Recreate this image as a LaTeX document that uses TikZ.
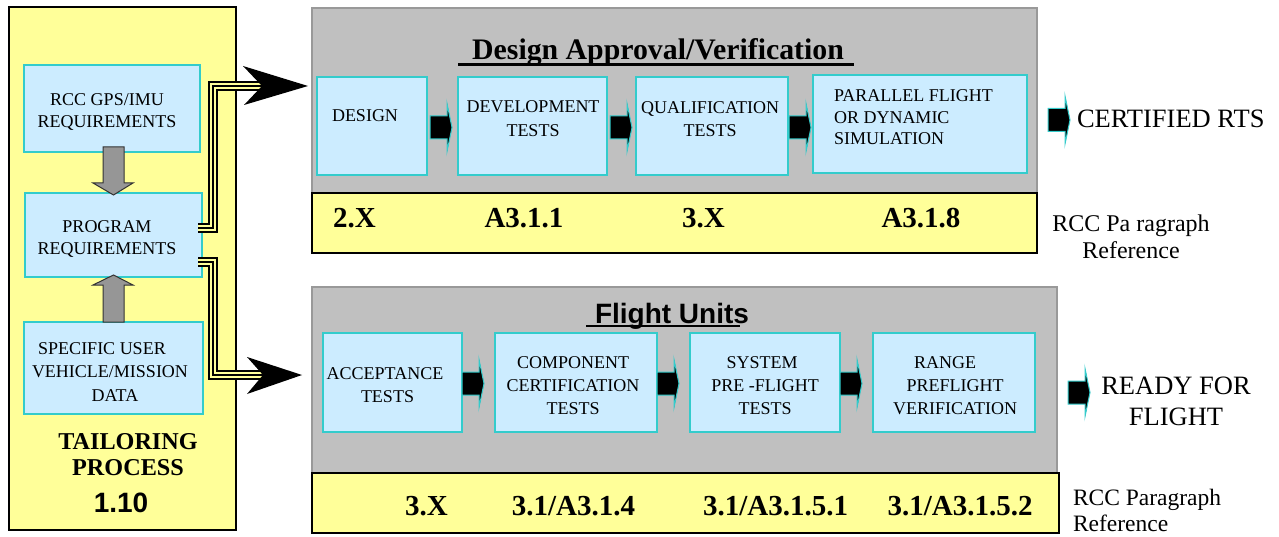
\documentclass[tikz,border=0pt]{standalone}
\usepackage{fontspec}
\setmainfont{Liberation Serif}
\newfontfamily\arialf{Liberation Sans}
\usetikzlibrary{calc}
\definecolor{yel}{HTML}{FFFF99}
\definecolor{lblue}{HTML}{CCECFF}
\definecolor{cyb}{HTML}{33CCCC}
\definecolor{pgray}{HTML}{C0C0C0}
\definecolor{pborder}{HTML}{999999}
\definecolor{agray}{HTML}{969696}
\tikzset{
  every node/.style={inner sep=0pt, outer sep=0pt},
  ybox/.style={draw=black, line width=1.5pt, fill=yel, anchor=north west, rectangle},
  bbox/.style={draw=cyb, line width=1.5pt, fill=lblue, anchor=north west, rectangle},
  gpanel/.style={draw=pborder, line width=2.5pt, fill=pgray, anchor=north west, rectangle},
  txt/.style={font=\fontsize{18}{#1}\selectfont, align=center},
  txt/.default=23.5,
  refno/.style={font=\fontsize{29}{34}\selectfont\bfseries, anchor=base},
  garrow/.style={fill=agray, draw=black!80, line width=1pt},
  blk/.style={fill=black, draw=cyb, line width=1pt},
  triple/.style={line width=10pt, draw=black,
    postaction={draw=yel, line width=6pt},
    postaction={draw=black, line width=2pt}},
  bighead/.style={fill=black}
}
\newcommand\blkarrow[1]{%
  \filldraw[blk] ($(#1)+(0,-11.5)$) -- ++(17,0) -- ++(0,-12.5) -- ++(5,24)
    -- ++(-5,24) -- ++(0,-12.5) -- ++(-17,0) -- cycle;}
\begin{document}
\begin{tikzpicture}[x=1pt,y=-1pt]
\useasboundingbox (0,0) rectangle (1279,537);

% ---------- left tailoring box ----------
\node[ybox, minimum width=227pt, minimum height=523pt] (tail) at (9,7) {};
\node[bbox, minimum width=176pt, minimum height=87pt] (gps) at (24,65) {};
\node[bbox, minimum width=177pt, minimum height=84pt] (prog) at (25,193) {};
\node[bbox, minimum width=179pt, minimum height=92pt] (spec) at (24,322) {};
\node[txt=22.5] (gpst) at (107,112) {RCC GPS/IMU\\REQUIREMENTS};
\node[txt=21.5] (progt) at (107,239) {PROGRAM\\REQUIREMENTS};
\node[txt=23.5] (spect) at (110,372) {\hspace*{-16pt}SPECIFIC USER\\VEHICLE/MISSION\\\hspace*{10pt}DATA};
\node[font=\bfseries\fontsize{24.2}{26}\selectfont, align=center] (tp) at (128,455) {TAILORING\\PROCESS};
\node[font=\arialf\bfseries\fontsize{28}{32}\selectfont, anchor=base] (num) at (121,512) {1.10};

\draw[garrow] ($(gps.south)+(-9,-5)$) -- ++(21,0) -- ++(0,36) -- ++(9,0)
  -- ++(-19.5,12) -- ++(-20.5,-12) -- ++(10,0) -- cycle;
\draw[garrow] ($(spec.north)+(-10.5,0)$) -- ++(21,0) -- ++(0,-37) -- ++(9,0)
  -- ++(-19.5,-10) -- ++(-20.5,10) -- ++(10,0) -- cycle;

% ---------- top panel ----------
\node[gpanel, minimum width=725pt, minimum height=185pt] (tpanel) at (312,8) {};
\node[ybox, minimum width=725pt, minimum height=60pt] (tstrip) at (312,193) {};
\node[font=\fontsize{29.8}{34}\selectfont\bfseries, anchor=base] (dav) at (658,60) {Design Approval/Verification};
\draw[line width=3pt] ([xshift=-14pt,yshift=-5pt]dav.base west) -- ([xshift=10pt,yshift=-5pt]dav.base east);

\node[bbox, minimum width=110pt, minimum height=98pt] (design) at (317,77) {};
\node[bbox, minimum width=149pt, minimum height=98pt] (dev) at (458,77) {};
\node[bbox, minimum width=152pt, minimum height=98pt] (qual) at (636,77) {};
\node[bbox, minimum width=214pt, minimum height=98pt] (par) at (813,75) {};
\node[txt] (designt) at (365,116) {DESIGN};
\node[txt=24] (devt) at (533,119) {DEVELOPMENT\\TESTS};
\node[txt=23] (qualt) at (710,119.5) {QUALIFICATION\\TESTS};
\node[font=\fontsize{18}{21.5}\selectfont, align=left, anchor=west] (part) at (834,117.5) {PARALLEL FLIGHT\\OR DYNAMIC\\SIMULATION};

\blkarrow{[xshift=3pt,yshift=-1.5pt]design.east}
\blkarrow{[xshift=3pt,yshift=-1.5pt]dev.east}
\blkarrow{[xshift=1pt,yshift=-1.5pt]qual.east}

\node[refno] (r1) at (354.5,227.5) {2.X};
\node[refno] (r2) at (524,227.5) {A3.1.1};
\node[refno] (r3) at (703.5,227.5) {3.X};
\node[refno] (r4) at (921,227.5) {A3.1.8};

\coordinate (ca) at (1048,120);
\blkarrow{ca}
\node[font=\fontsize{26.5}{30}\selectfont, anchor=base west] (cert) at (1077,128) {CERTIFIED RTS};
\node[font=\fontsize{24}{27}\selectfont, align=center] (ref1) at (1131,237) {RCC Pa ragraph\\Reference};

% ---------- bottom panel ----------
\node[gpanel, minimum width=745pt, minimum height=186pt] (bpanel) at (312,287) {};
\node[ybox, minimum width=747pt, minimum height=60pt] (bstrip) at (312,473) {};
\node[font=\arialf\bfseries\fontsize{28}{32}\selectfont, anchor=base] (fu) at (672,323) {Flight Units};
\draw[line width=2pt] ([xshift=-9pt,yshift=-3pt]fu.base west) -- ([xshift=-9pt,yshift=-3pt]fu.base east);

\node[bbox, minimum width=139pt, minimum height=99pt] (acc) at (323,333) {};
\node[bbox, minimum width=162pt, minimum height=99pt] (comp) at (495,333) {};
\node[bbox, minimum width=150pt, minimum height=99pt] (sys) at (690,333) {};
\node[bbox, minimum width=162pt, minimum height=99pt] (range) at (873,333) {};
\node[txt=23] (acct) at (385,385.5) {ACCEPTANCE\\\hspace*{5pt}TESTS};
\node[txt=23] (compt) at (573,386) {COMPONENT\\CERTIFICATION\\TESTS};
\node[txt=23] (syst) at (765,386) {\hspace*{-6pt}SYSTEM\\PRE -FLIGHT\\TESTS};
\node[txt=23] (ranget) at (955,386) {\hspace*{-20pt}RANGE\\PREFLIGHT\\VERIFICATION};

\blkarrow{[yshift=-1pt]acc.east}
\blkarrow{[yshift=-1pt]comp.east}
\blkarrow{[yshift=-1pt]sys.east}

\node[refno] (s1) at (426.5,515.5) {3.X};
\node[refno] (s2) at (573.5,515.5) {3.1/A3.1.4};
\node[refno] (s3) at (775.5,515.5) {3.1/A3.1.5.1};
\node[refno] (s4) at (960,515.5) {3.1/A3.1.5.2};

\coordinate (ra) at (1068,392.5);
\blkarrow{ra}
\node[font=\fontsize{26.5}{31}\selectfont, align=center] (ready) at (1176,401.5) {READY FOR\\FLIGHT};
\node[font=\fontsize{23.5}{26}\selectfont, align=left, anchor=west] (ref2) at (1073,510.5) {RCC Paragraph\\Reference};

% ---------- triple connectors ----------
\coordinate (v1) at (213,0);
\coordinate (ah1) at (262,86);
\coordinate (ah2) at (263,375);
\coordinate (s1c) at ([xshift=-4pt,yshift=7pt]prog.east);
\coordinate (s2c) at ([xshift=-4pt,yshift=-27pt]prog.east);
\draw[triple] (s1c) -- (s1c -| v1) -- (v1 |- ah1) -- (ah1);
\draw[triple] (s2c) -- (s2c -| v1) -- (v1 |- ah2) -- (ah2);
\fill[bighead] ($(ah1)+(-19,-20)$) -- ($(ah1)+(46,0)$) -- ($(ah1)+(-18,19)$) -- (ah1) -- cycle;
\fill[bighead] ($(ah2)+(-16,-18)$) -- ($(ah2)+(39,0)$) -- ($(ah2)+(-16,19)$) -- (ah2) -- cycle;
\end{tikzpicture}
\end{document}
